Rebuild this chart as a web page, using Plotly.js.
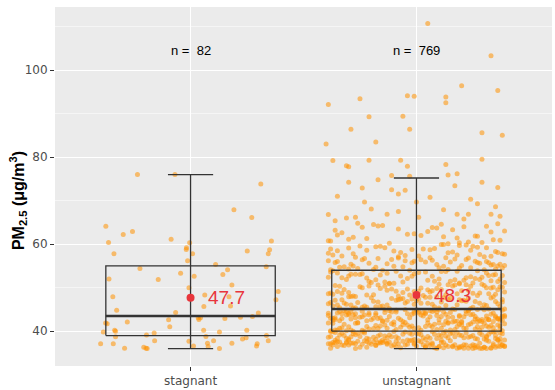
<!DOCTYPE html>
<html><head><meta charset="utf-8">
<script src="https://cdn.plot.ly/plotly-3.0.1.min.js"></script>
<style>html,body{margin:0;padding:0;background:#fff;}#chart{width:555px;height:390px;}</style>
</head><body><div id="chart"></div>
<script>
// ---- data ----
const categories = ['stagnant', 'unstagnant'];
const counts = [82, 769];
const means = [47.7, 48.3];
const q1 = [39.0, 40.0];
const medians = [43.5, 45.1];
const q3 = [55.0, 54.0];
const lowerWhisker = [36.0, 36.0];
const upperWhisker = [76.0, 75.2];

const stagnantY = [
 76.0,76.0,73.8,67.9,66.1,64.1,62.2,62.9,60.4,61.1,
 60.7,60.3,59.2,58.8,57.8,57.8,58.4,58.7,57.8,56.2,
 54.8,54.4,55.3,54.1,53.0,53.3,52.6,52.0,51.9,50.6,
 50.0,49.1,47.9,48.3,47.9,47.2,45.7,45.8,44.8,44.3,
 44.2,41.9,42.1,42.6,42.7,43.1,42.9,43.2,43.4,41.0,
 40.2,39.8,38.7,39.1,39.6,40.2,39.8,38.8,40.2,39.0,
 38.5,38.2,37.8,37.1,37.1,37.8,37.7,37.2,37.8,37.2,
 37.1,36.6,36.1,36.3,36.0,36.6,36.5,36.0,41.7,40.0,
 36.1,43.1];
const stagnantJitter = [
 -0.235,-0.069,0.311,0.192,0.271,-0.375,-0.298,-0.257,-0.363,-0.086,
 0.358,-0.004,-0.018,-0.019,-0.339,0.009,0.251,0.35,0.344,-0.013,
 0.335,-0.224,0.111,0.164,0.143,-0.044,0.016,-0.361,-0.143,0.183,
 -0.007,0.388,-0.344,0.063,0.170,0.378,0.059,0.177,-0.327,-0.066,
 0.30,-0.376,-0.28,-0.097,0.037,0.044,0.152,0.221,0.274,-0.092,
 -0.336,-0.386,-0.332,-0.195,-0.161,0.058,0.128,0.068,0.249,0.336,
 0.246,0.23,0.344,-0.398,-0.342,-0.159,-0.007,0.075,0.102,0.183,
 0.295,0.292,-0.292,-0.207,-0.192,0.013,0.078,0.128,-0.369,-0.332,
 -0.197,0.034];

const unstagnantY = [
 // 36-38
 36.1,37.4,36.8,37.9,36.3,37.0,36.6,37.7,36.2,37.3,
 36.9,36.4,37.6,36.0,37.1,36.7,37.8,36.5,37.2,36.3,
 37.5,36.8,36.1,37.9,36.6,37.0,36.4,37.4,36.9,37.7,
 36.2,37.2,36.7,36.0,37.6,36.5,37.1,36.8,37.3,36.3,
 37.8,36.6,36.1,37.5,36.9,37.0,36.4,37.7,36.2,37.3,
 36.7,37.9,36.5,37.1,36.0,37.4,36.8,36.3,37.6,36.6,
 37.2,36.1,37.8,36.9,36.4,37.0,37.5,36.7,36.2,37.3,
 36.5,37.7,36.8,37.1,36.0,37.4,36.6,37.9,36.3,37.2,
 36.9,36.1,37.6,36.4,37.0,36.7,37.8,36.2,37.5,36.5,
 37.3,36.8,36.0,37.1,36.6,37.7,36.3,37.4,36.9,37.2,
 36.1,37.6,36.5,37.0,36.7,37.9,36.4,37.3,36.2,36.8,
 // 38-40
 38.2,39.5,38.8,39.1,38.0,39.8,38.5,39.3,38.9,39.9,
 38.3,39.6,38.1,39.0,38.7,39.4,38.4,39.7,38.6,39.2,
 38.9,38.0,39.5,38.3,39.8,38.8,39.1,38.5,39.6,38.2,
 39.3,38.7,39.9,38.4,39.0,38.1,39.4,38.6,39.7,38.9,
 39.2,38.3,39.5,38.0,39.8,38.8,39.1,38.5,39.3,38.2,
 39.6,38.7,39.0,38.4,39.9,38.1,39.4,38.6,39.2,38.9,
 39.7,38.3,39.5,38.0,39.1,38.8,39.8,38.5,39.3,38.2,
 39.0,38.7,39.6,38.4,39.4,38.1,39.9,38.6,39.2,38.9,
 39.5,38.3,
 // 40-42
 40.3,41.6,40.9,41.2,40.0,41.8,40.5,41.4,40.7,41.9,
 40.2,41.1,40.8,41.5,40.4,41.7,40.1,41.3,40.6,41.0,
 40.9,41.8,40.3,41.2,40.6,41.5,40.0,41.9,40.7,41.4,
 40.2,41.6,40.8,41.1,40.5,41.7,40.1,41.3,40.4,41.0,
 40.9,41.5,40.3,41.8,40.6,41.2,40.0,41.9,40.7,41.4,
 40.2,41.6,40.8,41.1,40.5,41.7,40.4,41.3,40.1,41.0,
 40.6,41.8,40.3,41.5,40.9,41.2,40.0,41.4,40.7,41.9,
 // 42-45
 42.3,44.1,43.5,42.8,44.7,43.0,42.1,44.4,43.8,42.6,
 44.9,43.2,42.4,44.0,43.6,42.9,44.5,43.1,42.2,44.8,
 43.4,42.7,44.2,43.9,42.0,44.6,43.3,42.5,44.3,43.7,
 42.8,44.9,43.0,42.3,44.1,43.5,42.6,44.7,43.8,42.1,
 44.4,43.2,42.9,44.0,43.6,42.4,44.8,43.1,42.7,44.2,
 43.4,42.2,44.5,43.9,42.0,44.6,43.3,42.5,44.3,43.7,
 42.8,44.9,43.0,42.3,44.1,43.5,42.6,44.7,43.8,42.1,
 44.4,43.2,42.9,44.0,43.6,42.4,44.8,43.1,42.7,44.2,
 43.4,42.2,44.5,43.9,42.0,44.6,43.3,42.5,44.3,43.7,
 42.8,44.9,43.0,42.3,44.1,43.5,42.6,44.7,43.8,42.1,
 44.4,43.2,42.9,44.0,43.6,42.4,44.8,43.1,42.7,44.2,
 43.4,42.2,44.5,43.9,42.0,44.6,43.3,42.5,44.3,43.7,
 42.8,44.0,
 // 45-48
 45.3,47.1,46.4,45.8,47.6,46.0,45.1,47.4,46.7,45.5,
 47.9,46.2,45.0,47.2,46.8,45.6,47.7,46.3,45.2,47.0,
 46.6,45.9,47.5,46.1,45.4,47.8,46.9,45.7,47.3,46.5,
 45.3,47.1,46.4,45.8,47.6,46.0,45.1,47.4,46.7,45.5,
 47.9,46.2,45.0,47.2,46.8,45.6,47.7,46.3,45.2,47.0,
 46.6,45.9,47.5,46.1,45.4,47.8,46.9,45.7,47.3,46.5,
 45.3,47.1,46.4,45.8,47.6,46.0,45.1,47.4,46.7,45.5,
 47.9,46.2,45.0,47.2,46.8,
 // 48-51
 48.4,50.2,49.5,48.9,50.7,49.1,48.2,50.5,49.8,48.6,
 50.9,49.3,48.0,50.1,49.7,48.7,50.4,49.0,48.3,50.8,
 49.6,48.8,50.3,49.2,48.5,50.6,49.9,48.1,50.0,49.4,
 48.4,50.2,49.5,48.9,50.7,49.1,48.2,50.5,49.8,48.6,
 50.9,49.3,48.0,50.1,49.7,48.7,50.4,49.0,48.3,50.8,
 49.6,48.8,50.3,49.2,48.5,50.6,49.9,48.1,50.0,49.4,
 48.6,50.3,
 // 51-54
 51.2,53.4,52.6,51.8,53.9,52.1,51.5,53.1,52.8,51.0,
 53.6,52.3,51.7,53.0,52.9,51.3,53.7,52.4,51.9,53.2,
 52.0,51.4,53.8,52.7,51.1,53.5,52.2,51.6,53.3,52.5,
 51.2,53.4,52.6,51.8,53.9,52.1,51.5,53.1,52.8,51.0,
 53.6,52.3,51.7,53.0,52.9,51.3,53.7,52.4,51.9,53.2,
 52.0,51.4,53.8,52.7,51.1,
 // 54-57
 54.3,56.5,55.1,54.8,56.9,55.6,54.1,56.2,55.9,54.5,
 56.7,55.3,54.0,56.0,55.8,54.6,56.4,55.0,54.9,56.8,
 55.4,54.2,56.1,55.7,54.7,56.6,55.2,54.4,56.3,55.5,
 54.3,56.5,55.1,54.8,56.9,55.6,54.1,56.2,55.9,54.5,
 56.7,55.3,54.0,56.0,55.8,54.6,56.4,55.0,54.9,56.8,
 55.4,54.2,56.1,55.7,54.7,
 // 57-60
 57.3,59.5,58.1,57.8,59.9,58.6,57.1,59.2,58.9,57.5,
 59.7,58.3,57.0,59.0,58.8,57.6,59.4,58.0,57.9,59.8,
 58.4,57.2,59.1,58.7,57.7,59.6,58.2,57.4,59.3,58.5,
 57.3,59.5,58.1,57.8,59.9,58.6,57.1,59.2,58.9,57.5,
 // 60-65
 60.4,63.2,61.7,64.5,60.9,62.3,64.0,61.1,63.8,60.2,
 62.8,64.8,61.4,63.0,60.7,62.0,64.3,61.9,63.5,60.1,
 62.6,64.1,61.3,63.7,60.5,62.4,64.7,61.6,63.3,60.8,
 62.9,64.2,61.0,63.9,60.3,62.1,64.6,61.8,
 // 65-70
 66.8,66.2,66.0,66.9,66.2,66.9,66.9,66.4,66.9,68.1,69.7,69.7,69.3,67.5,68.6,65.4,67.9,65.8,
 // 70-75
 70.3,74.2,74.8,72.5,71.5,72.4,73.4,74.2,71.0,73.0,70.8,72.9,
 // 75-80
 79.2,78.0,77.8,79.3,79.3,77.9,75.8,75.6,78.3,75.9,76.2,79.5,
 // 80+
 110.7,103.3,96.4,95.3,93.4,94.1,94.0,93.8,92.5,92.1,89.3,89.4,86.4,86.4,85.6,83.0,83.5,85.0];

const unstagnantJitter = [
 -0.38,0.12,-0.05,0.31,-0.22,0.07,0.36,-0.14,0.19,-0.31,
 0.25,-0.09,0.02,-0.27,0.34,-0.18,0.15,-0.35,0.28,0.04,
 -0.12,-0.33,0.21,-0.02,0.39,-0.24,0.10,-0.37,0.17,0.32,
 -0.07,-0.29,0.26,0.09,-0.16,0.37,-0.39,0.13,-0.21,0.30,
 0.01,-0.11,0.23,-0.34,0.38,-0.04,0.16,-0.26,0.33,-0.17,
 0.06,-0.36,0.20,-0.08,0.29,0.11,-0.30,0.35,-0.19,0.24,
 -0.01,0.18,-0.23,0.03,0.27,-0.13,0.37,-0.32,0.08,-0.28,
 0.14,-0.06,0.22,-0.38,0.31,-0.15,0.00,0.36,-0.25,0.05,
 -0.10,0.28,-0.35,0.19,-0.20,0.34,-0.03,0.12,-0.31,0.39,
 0.07,-0.18,0.25,-0.27,0.16,-0.09,0.30,-0.36,0.21,-0.13,
 0.33,-0.22,0.10,-0.01,0.38,-0.30,0.04,-0.16,0.26,-0.37,
 0.27,-0.33,0.05,-0.12,0.39,-0.24,0.14,-0.02,0.31,-0.37,
 0.09,0.22,-0.18,0.35,-0.29,0.01,-0.08,0.18,-0.39,0.29,
 -0.14,0.11,-0.26,0.37,-0.05,0.24,-0.34,0.03,0.16,-0.21,
 0.32,-0.11,0.07,-0.31,0.20,-0.01,0.38,-0.19,-0.36,0.13,
 -0.27,0.26,0.00,-0.15,0.34,-0.38,0.10,0.21,-0.06,0.30,
 -0.23,0.17,-0.32,0.06,-0.10,0.36,-0.28,0.23,0.02,-0.17,
 0.12,-0.35,0.28,-0.04,0.19,-0.25,0.33,-0.13,0.08,-0.30,
 0.25,-0.09,0.37,-0.22,0.15,0.04,-0.38,0.31,-0.16,0.11,
 -0.03,0.35,
 -0.35,0.08,0.29,-0.16,0.13,-0.27,0.37,-0.04,0.21,-0.39,
 0.02,-0.22,0.34,-0.10,0.17,0.39,-0.31,0.06,-0.19,0.27,
 -0.07,0.14,-0.36,0.31,-0.01,0.23,-0.28,0.10,-0.13,0.36,
 -0.24,0.19,-0.33,0.04,0.26,-0.11,0.38,-0.18,0.09,-0.30,
 0.32,-0.06,0.15,-0.37,0.22,-0.02,0.35,-0.26,0.11,-0.14,
 0.28,-0.32,0.01,0.18,-0.21,0.24,-0.09,0.33,-0.38,0.07,
 -0.17,0.30,-0.29,0.12,-0.03,0.37,-0.23,0.20,-0.34,0.05,
 0.18,-0.30,0.03,0.36,-0.12,-0.38,0.25,0.09,-0.21,0.32,
 -0.05,0.14,-0.34,0.22,0.39,-0.17,0.01,-0.27,0.29,-0.09,
 0.11,-0.36,0.34,-0.02,0.20,-0.24,0.06,0.37,-0.14,-0.31,
 0.27,0.00,-0.19,0.13,-0.39,0.31,-0.07,0.23,-0.28,0.16,
 -0.11,0.35,-0.33,0.04,0.19,-0.22,0.38,-0.03,0.10,-0.35,
 0.26,-0.15,0.07,0.33,-0.26,-0.01,0.21,-0.37,0.15,0.02,
 -0.29,0.30,-0.08,0.17,-0.18,0.38,0.05,-0.32,0.24,-0.10,
 0.12,-0.25,0.36,-0.04,-0.39,0.28,0.08,-0.16,0.32,-0.21,
 0.19,-0.06,-0.34,0.25,0.14,-0.29,0.39,-0.13,0.03,-0.23,
 0.31,0.10,-0.37,0.20,-0.01,0.35,-0.20,0.06,-0.30,0.27,
 -0.09,0.16,0.37,-0.27,0.09,-0.15,0.23,-0.36,0.29,0.01,
 -0.12,0.34,-0.31,0.13,-0.05,0.22,-0.24,0.38,0.04,-0.18,
 0.26,-0.33,
 -0.28,0.21,0.05,-0.37,0.33,-0.13,0.16,-0.02,0.38,-0.22,
 0.09,-0.31,0.27,-0.08,0.35,-0.18,0.12,-0.39,0.24,0.00,
 -0.26,0.31,-0.11,0.18,-0.34,0.06,-0.19,0.37,0.14,-0.05,
 0.29,-0.36,0.02,-0.15,0.23,-0.29,0.39,-0.07,0.11,-0.24,
 0.34,-0.01,0.17,-0.33,0.26,0.08,-0.20,0.36,-0.12,0.20,
 -0.38,0.13,-0.06,0.30,-0.27,0.04,0.22,-0.16,0.38,-0.32,
 0.10,-0.09,0.28,-0.23,0.15,-0.35,0.32,0.01,-0.17,0.25,
 -0.30,0.07,-0.14,0.19,-0.04,
 0.13,-0.25,0.36,-0.06,0.22,-0.35,0.03,0.30,-0.16,-0.39,
 0.19,0.07,-0.29,0.34,-0.11,0.25,-0.21,0.39,-0.03,0.10,
 -0.32,0.28,-0.14,0.01,-0.37,0.17,0.33,-0.08,-0.24,0.23,
 -0.19,0.37,0.05,-0.30,0.14,-0.01,0.27,-0.36,0.09,0.32,
 -0.12,0.20,-0.27,0.38,-0.04,-0.33,0.16,0.06,-0.22,0.29,
 0.11,-0.38,0.24,-0.09,0.35,-0.17,0.02,-0.28,0.31,-0.13,
 0.18,-0.34,
 -0.20,0.31,-0.02,0.17,-0.37,0.26,0.08,-0.29,0.38,-0.12,
 0.04,-0.33,0.21,0.35,-0.16,-0.06,0.13,-0.39,0.28,-0.24,
 0.10,0.36,-0.09,-0.30,0.19,0.01,-0.22,0.33,-0.13,0.24,
 0.39,-0.35,0.07,-0.18,0.27,-0.04,0.15,-0.27,0.32,-0.10,
 -0.38,0.22,0.05,-0.25,0.34,-0.14,0.11,0.29,-0.31,-0.01,
 0.37,-0.21,0.18,-0.07,0.25,
 0.35,-0.11,0.20,-0.32,0.06,0.28,-0.38,-0.05,0.15,0.38,
 -0.23,0.09,-0.15,0.31,-0.36,0.24,0.02,-0.28,0.12,-0.08,
 0.37,-0.19,0.26,-0.02,-0.34,0.17,0.33,-0.26,0.07,-0.13,
 -0.30,0.22,0.39,-0.06,0.13,-0.21,0.30,-0.39,0.04,0.19,
 -0.17,0.34,-0.03,-0.35,0.27,0.10,-0.24,0.36,-0.10,0.23,
 -0.29,0.14,-0.01,0.32,-0.18,
 -0.33,0.25,-0.07,0.38,0.11,-0.22,0.30,-0.14,0.03,-0.37,
 0.19,0.35,-0.27,0.08,-0.02,0.28,-0.18,0.14,-0.39,0.22,
 -0.10,0.33,-0.30,0.06,0.39,-0.25,0.16,-0.05,0.27,-0.35,
 0.01,-0.16,0.36,-0.28,0.12,0.24,-0.08,0.31,-0.38,0.18,
 0.29,-0.36,0.12,-0.19,0.37,-0.04,0.21,-0.30,0.07,-0.12,
 0.33,-0.26,0.18,0.39,-0.38,0.02,-0.15,0.26,-0.08,0.14,
 -0.33,0.31,-0.22,0.09,0.23,-0.01,0.36,-0.28,0.16,-0.39,
 0.05,-0.17,0.34,-0.24,0.19,-0.35,0.11,0.27,
 -0.39,-0.27,-0.31,-0.13,0.01,0.18,0.23,0.37,0.33,-0.20,-0.23,0.00,0.27,-0.08,0.35,-0.36,0.12,0.21,
 0.24,-0.30,-0.17,-0.11,-0.08,-0.05,0.17,0.29,-0.35,0.36,0.06,-0.24,
 -0.37,-0.31,-0.30,-0.21,-0.07,-0.04,-0.11,-0.03,0.13,0.14,0.18,0.29,
 0.05,0.33,0.20,0.36,-0.25,-0.04,-0.01,0.13,0.13,-0.39,-0.21,-0.06,-0.29,-0.03,0.29,-0.40,-0.18,0.38];

// ---- styling constants ----
const BOX_HALF = 0.375, CAP_HALF = 0.1, LABEL_DX = 0.07, N_LABEL_Y = 104.4;
const pointColor = 'rgba(255,145,0,0.55)';
const lineColor = '#333333';
const red = '#E8353B';

const groupsY = [stagnantY, unstagnantY];
const groupsJ = [stagnantJitter, unstagnantJitter];

const traces = [];
groupsY.forEach((ys, i) => {
  const js = groupsJ[i];
  const n = Math.min(ys.length, js.length);
  traces.push({
    type: 'scatter', mode: 'markers',
    x: js.slice(0, n).map(d => i + d), y: ys.slice(0, n),
    marker: {color: pointColor, size: 5, line: {width: 0}},
    hoverinfo: 'skip', showlegend: false
  });
});

// box outlines & whiskers
const bx = [], by = [], mx = [], my = [];
categories.forEach((c, i) => {
  bx.push(i - BOX_HALF, i + BOX_HALF, i + BOX_HALF, i - BOX_HALF, i - BOX_HALF, null);
  by.push(q1[i], q1[i], q3[i], q3[i], q1[i], null);
  bx.push(i, i, null);
  by.push(lowerWhisker[i], upperWhisker[i], null);
  bx.push(i - CAP_HALF, i + CAP_HALF, null, i - CAP_HALF, i + CAP_HALF, null);
  by.push(lowerWhisker[i], lowerWhisker[i], null, upperWhisker[i], upperWhisker[i], null);
  mx.push(i - BOX_HALF, i + BOX_HALF, null);
  my.push(medians[i], medians[i], null);
});
traces.push({type: 'scatter', mode: 'lines', x: bx, y: by, connectgaps: false,
  line: {color: lineColor, width: 1.3}, hoverinfo: 'skip', showlegend: false});
traces.push({type: 'scatter', mode: 'lines', x: mx, y: my, connectgaps: false,
  line: {color: lineColor, width: 2.4}, hoverinfo: 'skip', showlegend: false});
traces.push({type: 'scatter', mode: 'markers', x: categories.map((c, i) => i), y: means,
  marker: {color: red, size: 8}, hoverinfo: 'skip', showlegend: false});

const annotations = [];
categories.forEach((c, i) => {
  annotations.push({x: i, y: N_LABEL_Y, xref: 'x', yref: 'y', showarrow: false,
    text: 'n =\u00a0 ' + counts[i], xanchor: 'center', yanchor: 'middle',
    font: {family: 'Liberation Sans, Arial, sans-serif', size: 13, color: '#000000'}});
  annotations.push({x: i + LABEL_DX, y: means[i], xref: 'x', yref: 'y', showarrow: false,
    text: means[i].toFixed(1), xanchor: 'left', yanchor: 'middle',
    font: {family: 'Liberation Sans, Arial, sans-serif', size: 19, color: red}});
});
// y-axis title
annotations.push({xref: 'paper', yref: 'paper', x: -0.0745, y: 0.462, showarrow: false,
  textangle: -90, xanchor: 'center', yanchor: 'middle',
  text: '<b>PM<sub>2.5</sub> (μg/m<sup>3</sup>)</b>',
  font: {family: 'Liberation Sans, Arial, sans-serif', size: 16, color: '#000000'}});

const layout = {
  width: 555, height: 390,
  margin: {l: 55, r: 3, t: 7, b: 24, pad: 0},
  paper_bgcolor: '#FFFFFF', plot_bgcolor: '#EBEBEB',
  showlegend: false, hovermode: false,
  xaxis: {
    range: [-0.6, 1.6], tickmode: 'array', tickvals: categories.map((c, i) => i), ticktext: categories,
    showgrid: true, gridcolor: '#FFFFFF', gridwidth: 1.1, zeroline: false, showline: false,
    ticks: 'outside', ticklen: 4, tickwidth: 1, tickcolor: '#333333',
    tickfont: {family: 'DejaVu Sans, sans-serif', size: 12, color: '#4D4D4D'}
  },
  yaxis: {
    range: [32.0, 114.5], tickmode: 'array', tickvals: [40, 60, 80, 100],
    showgrid: true, gridcolor: '#FFFFFF', gridwidth: 1.1, zeroline: false, showline: false,
    ticks: 'outside', ticklen: 4, tickwidth: 1, tickcolor: '#333333',
    tickfont: {family: 'DejaVu Sans, sans-serif', size: 12, color: '#4D4D4D'},
    minor: {tickmode: 'array', tickvals: [50, 70, 90, 110], showgrid: true, gridcolor: '#FFFFFF', gridwidth: 0.5, ticks: ''}
  },
  annotations: annotations
};

Plotly.newPlot('chart', traces, layout, {staticPlot: true, displayModeBar: false});
</script>
</body></html>
